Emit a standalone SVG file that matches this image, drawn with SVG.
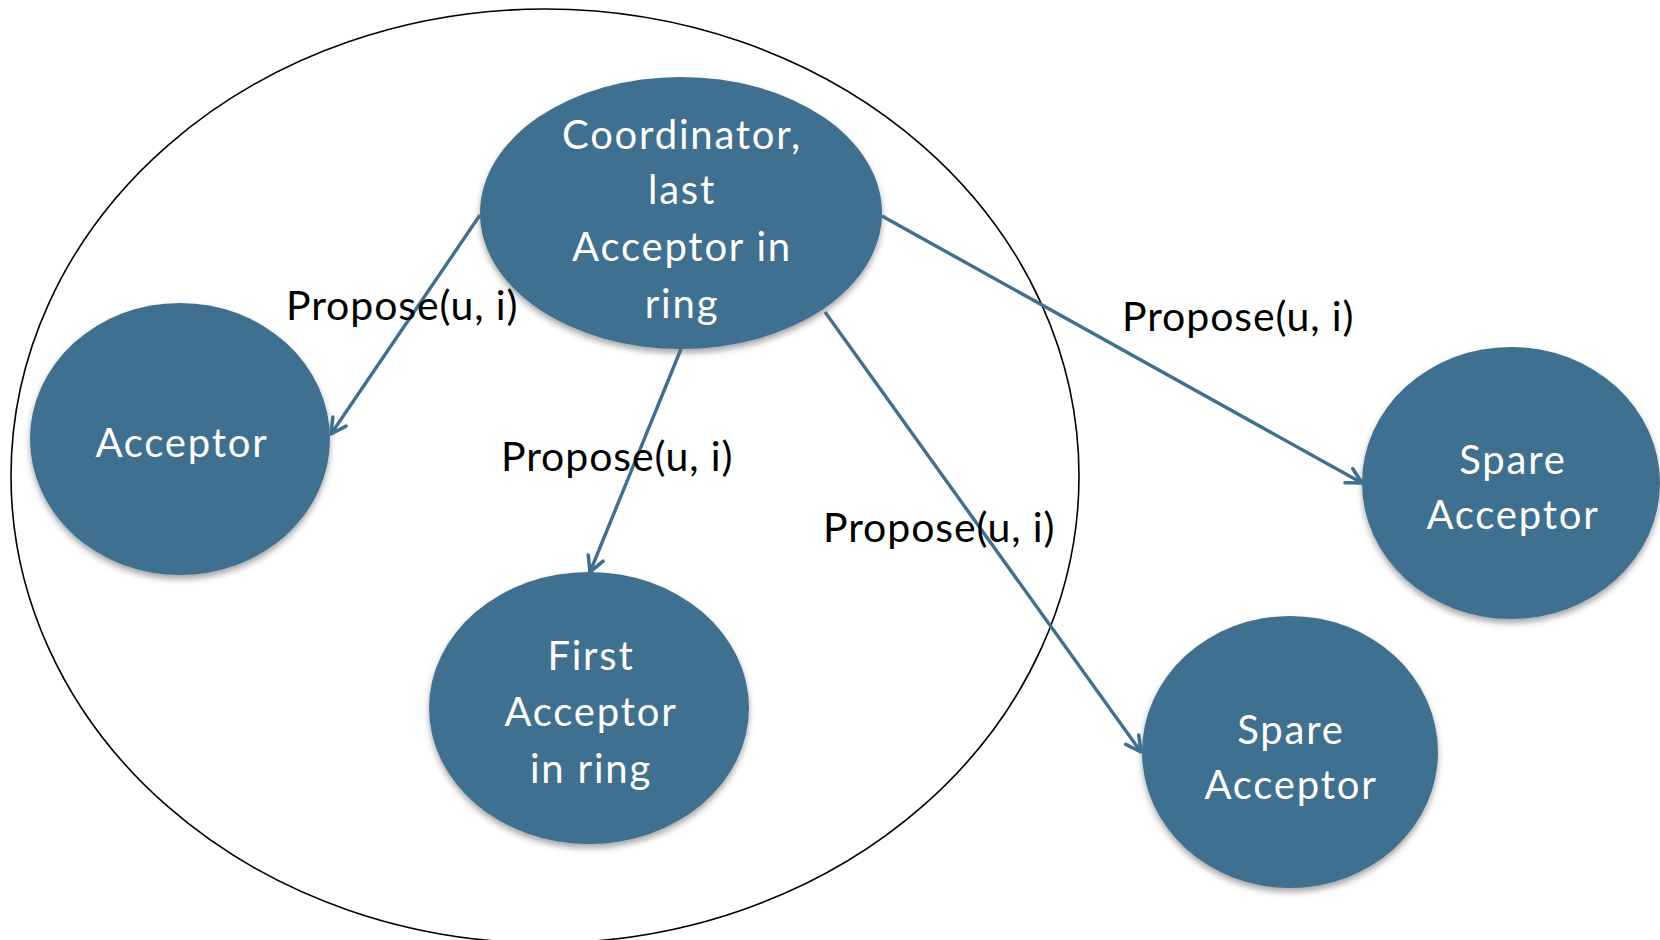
<svg xmlns="http://www.w3.org/2000/svg" width="1660" height="940" viewBox="0 0 1660 940">
<style>
.node{fill:#41708F;filter:url(#sh)}
.nt{fill:#fff;font-family:Lato,"Open Sans",sans-serif;font-size:40px;letter-spacing:1.8px;text-anchor:middle}
.lbl{fill:#000;font-family:Lato,"Open Sans",sans-serif;font-size:41px;letter-spacing:0.9px}
.edge{stroke:#41708F;stroke-width:3.4;fill:none;marker-end:url(#arr)}
</style>
<defs>
<filter id="sh" x="-10%" y="-10%" width="120%" height="125%">
<feDropShadow dx="0" dy="4" stdDeviation="3" flood-color="#000" flood-opacity="0.35"/>
</filter>
<marker id="arr" viewBox="0 0 20 20" refX="18" refY="10" markerWidth="20" markerHeight="20" orient="auto" markerUnits="userSpaceOnUse">
<path d="M3,2 L18,10 L3,18" fill="none" stroke="#41708F" stroke-width="3.6" stroke-linecap="round" stroke-linejoin="round"/>
</marker>
</defs>
<rect width="1660" height="940" fill="#fff"/>
<g id="ring">
<ellipse cx="545" cy="476" rx="534" ry="467" fill="none" stroke="#000" stroke-width="1.6"/>
</g>
<g id="coordinator">
<ellipse class="node" cx="681" cy="213" rx="201" ry="136"/>
<text class="nt" x="682" y="149">Coordinator,</text>
<text class="nt" x="682" y="204">last</text>
<text class="nt" x="682" y="261">Acceptor in</text>
<text class="nt" x="682" y="318">ring</text>
</g>
<g id="acceptor">
<ellipse class="node" cx="180" cy="439" rx="150" ry="136"/>
<text class="nt" x="182" y="457">Acceptor</text>
</g>
<g id="first">
<ellipse class="node" cx="589" cy="708" rx="160" ry="136"/>
<text class="nt" x="591" y="670">First</text>
<text class="nt" x="591" y="726">Acceptor</text>
<text class="nt" x="591" y="783">in ring</text>
</g>
<g id="spare1">
<ellipse class="node" cx="1511" cy="483" rx="149" ry="136"/>
<text class="nt" x="1513" y="474">Spare</text>
<text class="nt" x="1513" y="529">Acceptor</text>
</g>
<g id="spare2">
<ellipse class="node" cx="1290" cy="752" rx="148" ry="136"/>
<text class="nt" x="1291" y="744">Spare</text>
<text class="nt" x="1291" y="799">Acceptor</text>
</g>
<g id="connectors">
<line class="edge" x1="480" y1="215" x2="331" y2="434"/>
<line class="edge" x1="681" y1="349" x2="590" y2="572"/>
<line class="edge" x1="825" y1="312" x2="1141" y2="752"/>
<line class="edge" x1="882" y1="216" x2="1362" y2="483"/>
</g>
<g id="labels">
<text class="lbl" x="286" y="320">Propose(u, i)</text>
<text class="lbl" x="501" y="471">Propose(u, i)</text>
<text class="lbl" x="823" y="542">Propose(u, i)</text>
<text class="lbl" x="1122" y="331">Propose(u, i)</text>
</g>
</svg>
